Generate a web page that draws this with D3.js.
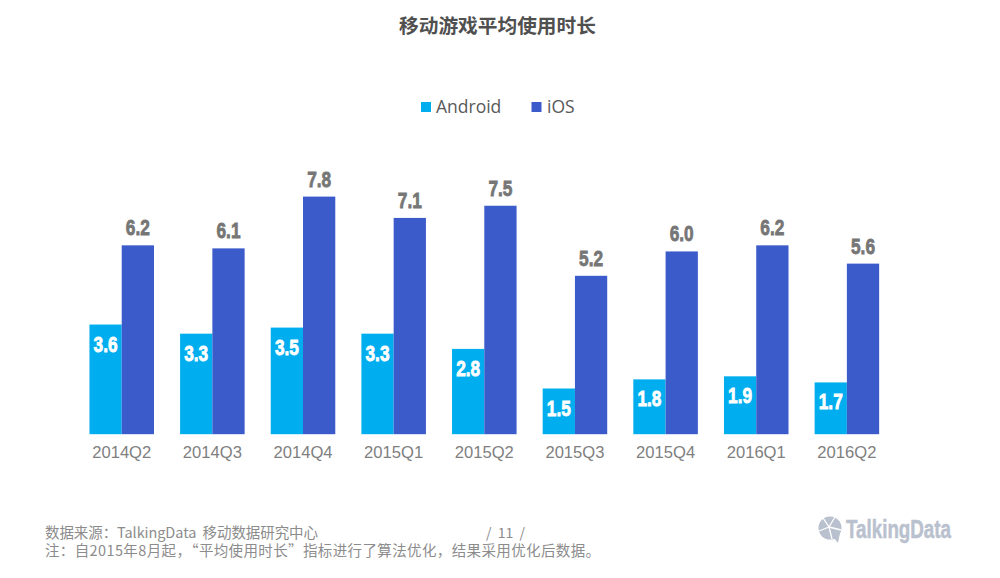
<!DOCTYPE html>
<html><head><meta charset="utf-8">
<script src="https://cdn.jsdelivr.net/npm/d3@7/dist/d3.min.js"></script>
<style>html,body{margin:0;padding:0;background:#fff}svg{display:block}</style></head>
<body><svg id="c" width="1000" height="578"></svg>
<script>
const categories=["2014Q2","2014Q3","2014Q4","2015Q1","2015Q2","2015Q3","2015Q4","2016Q1","2016Q2"];
const seriesNames=["Android","iOS"];
const android=[3.6,3.3,3.5,3.3,2.8,1.5,1.8,1.9,1.7];
const ios=[6.2,6.1,7.8,7.1,7.5,5.2,6.0,6.2,5.6];
const colors=["#00AEEF","#3B5BCB"];
const title="移动游戏平均使用时长";
const sourceNote="数据来源：TalkingData  移动数据研究中心";
const footNote="注：自2015年8月起，“平均使用时长”指标进行了算法优化，结果采用优化后数据。";
const pageNo="/  11  /";
const logoText="TalkingData";

const cjk='"Noto Sans CJK SC","Noto Sans",sans-serif';
const svg=d3.select("#c");
const x=d3.scaleBand().domain(categories).range([76.4,892.2]).paddingInner(.288).paddingOuter(.144);
const x1=d3.scaleBand().domain(seriesNames).range([0,x.bandwidth()]);
const y=d3.scaleLinear().domain([0,7.8]).range([434.2,196.6]);

svg.append("text").attr("x",497.5).attr("y",33).attr("text-anchor","middle")
  .attr("font-family",cjk).attr("font-weight",700).attr("font-size",19.7).attr("fill","#505050").text(title);

// legend
const lg=[{n:"Android",sx:421,tx:436},{n:"iOS",sx:531.5,tx:547}];
lg.forEach((d,i)=>{
  svg.append("rect").attr("x",d.sx).attr("y",102).attr("width",10).attr("height",10).attr("fill",colors[i]);
  svg.append("text").attr("x",d.tx).attr("y",113).attr("font-family","'Open Sans',sans-serif").attr("font-size",17.5).attr("fill","#595959").text(d.n);
});

// bars
const groups=[android,ios];
groups.forEach((vals,s)=>{
  const name=seriesNames[s];
  svg.append("g").selectAll("rect").data(vals).join("rect")
    .attr("x",(d,i)=>x(categories[i])+x1(name))
    .attr("y",d=>y(d))
    .attr("width",x1.bandwidth())
    .attr("height",d=>y(0)-y(d))
    .attr("fill",colors[s]);
});

// value labels
const valueLabel=(sel)=>sel.attr("text-anchor","middle")
  .attr("font-family","'Liberation Sans',sans-serif")
  .attr("font-weight",700).attr("font-size",22).attr("stroke-width",.8)
  .attr("textLength",24).attr("lengthAdjust","spacingAndGlyphs");
svg.append("g").selectAll("text").data(android).join("text").call(valueLabel)
  .attr("x",(d,i)=>x(categories[i])+x1("Android")+x1.bandwidth()/2)
  .attr("y",d=>y(d)+27)
  .attr("fill","#fff").attr("stroke","#fff")
  .text(d=>d.toFixed(1));
svg.append("g").selectAll("text").data(ios).join("text").call(valueLabel)
  .attr("x",(d,i)=>x(categories[i])+x1("iOS")+x1.bandwidth()/2)
  .attr("y",d=>y(d)-10)
  .attr("fill","#767676").attr("stroke","#767676")
  .text(d=>d.toFixed(1));

// category axis
const axis=svg.append("g").attr("transform","translate(0,434)").call(d3.axisBottom(x).tickSize(0).tickPadding(12));
axis.select(".domain").remove();
axis.selectAll("text").attr("font-family","'Liberation Sans',sans-serif").attr("font-size",16.6).attr("fill","#7f7f7f");

// footer
const foot=(t,xp,yp,size,len)=>{
  const s=svg.append("text").attr("x",xp).attr("y",yp).attr("font-family",cjk)
    .attr("font-size",size||14.5).attr("fill","#8c8c8c").style("white-space","pre").text(t);
  if(len) s.attr("textLength",len).attr("lengthAdjust","spacing");
};
foot(sourceNote,45,538,14.5,273);
foot(footNote,45,556,14.5,555);
foot(pageNo,486,538,14);

// logo
const logo=svg.append("g");
logo.append("circle").attr("cx",830).attr("cy",528).attr("r",11.5).attr("fill","#b9c1ce");
logo.append("path").attr("d","M833 537L838 543L840 533Z").attr("fill","#b9c1ce");
logo.append("path").attr("d","M819 531L829 527L823 518M829 527L835 517M829 527L841 530M829 527L832 539").attr("fill","none").attr("stroke","#fff").attr("stroke-width",1.3);
logo.append("text").attr("x",846).attr("y",538).attr("font-family","'Liberation Sans',sans-serif")
  .attr("font-weight",700).attr("font-size",25).attr("fill","#b9c1ce").attr("stroke","#b9c1ce").attr("stroke-width",.5)
  .attr("textLength",105).attr("lengthAdjust","spacingAndGlyphs").text(logoText);
</script></body></html>
